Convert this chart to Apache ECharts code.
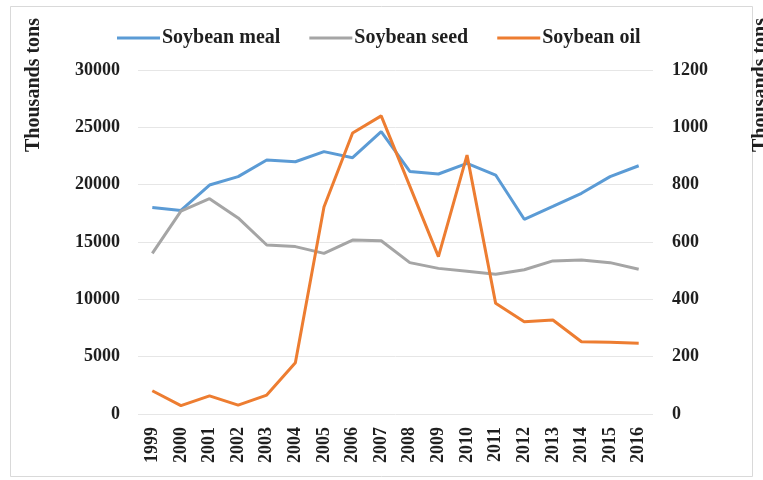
<!DOCTYPE html>
<html>
<head>
<meta charset="utf-8">
<script src="https://cdn.jsdelivr.net/npm/echarts@6/dist/echarts.min.js"></script>
<style>html,body{margin:0;padding:0;background:#fff;}#c{width:763px;height:480px;}</style>
</head>
<body>
<div id="c"></div>
<script>
const years = ['1999','2000','2001','2002','2003','2004','2005','2006','2007','2008','2009','2010','2011','2012','2013','2014','2015','2016'];
const soybeanMeal = [18000,17750,19970,20700,22150,22000,22880,22350,24620,21150,20930,21850,20840,16980,18100,19250,20700,21650];
const soybeanSeed = [14010,17700,18780,17100,14740,14600,14010,15170,15110,13200,12700,12450,12180,12580,13350,13420,13200,12620];
const soybeanOil = [81,29,63,31,66,179,722,980,1040,795,549,903,386,322,328,252,250,247];
const leftTicks = [0,5000,10000,15000,20000,25000,30000];
const rightTicks = [0,200,400,600,800,1000,1200];
const axisTitle = 'Thousands tons';

const font = '"Liberation Serif", "Times New Roman", serif';
const txt = '#1f1f1f';
const chart = echarts.init(document.getElementById('c'), null, {renderer: 'canvas'});
chart.setOption({
  backgroundColor: '#ffffff',
  animation: false,
  color: ['#5B9BD5', '#A5A5A5', '#ED7D31'],
  legend: {
    top: 23, left: 112,
    itemWidth: 43, itemHeight: 3, itemGap: 29,
    icon: 'rect',
    textStyle: {fontFamily: font, fontWeight: 'bold', fontSize: 20, color: txt, padding: [0,0,0,-3]},
    data: ['Soybean meal', 'Soybean seed', 'Soybean oil']
  },
  grid: {left: 138, right: 110, top: 70, bottom: 66},
  xAxis: {
    type: 'category', data: years, boundaryGap: true,
    axisLine: {show: false}, axisTick: {show: false},
    axisLabel: {rotate: 90, fontFamily: font, fontWeight: 'bold', fontSize: 18, color: txt, margin: 13, interval: 0}
  },
  yAxis: [
    {type: 'value', min: leftTicks[0], max: leftTicks[leftTicks.length-1], interval: 5000,
     axisLine: {show: false}, axisTick: {show: false},
     splitLine: {lineStyle: {color: '#e6e6e6', width: 1}},
     axisLabel: {fontFamily: font, fontWeight: 'bold', fontSize: 18, color: txt, margin: 18, formatter: v => String(v)}},
    {type: 'value', min: rightTicks[0], max: rightTicks[rightTicks.length-1], interval: 200,
     axisLine: {show: false}, axisTick: {show: false}, splitLine: {show: false},
     axisLabel: {fontFamily: font, fontWeight: 'bold', fontSize: 18, color: txt, margin: 19, formatter: v => String(v)}}
  ],
  series: [
    {name: 'Soybean meal', type: 'line', data: soybeanMeal, yAxisIndex: 0, symbol: 'none', lineStyle: {width: 3}},
    {name: 'Soybean seed', type: 'line', data: soybeanSeed, yAxisIndex: 0, symbol: 'none', lineStyle: {width: 3}},
    {name: 'Soybean oil', type: 'line', data: soybeanOil, yAxisIndex: 1, symbol: 'none', lineStyle: {width: 3}}
  ],
  graphic: [
    {type: 'rect', shape: {x: 10.5, y: 6.5, width: 742, height: 470}, style: {fill: null, stroke: '#d9d9d9', lineWidth: 1}, silent: true},
    {type: 'text', x: 34, y: 85, rotation: Math.PI/2,
     style: {text: axisTitle, font: 'bold 20px ' + font, fill: txt, align: 'center', verticalAlign: 'middle'}},
    {type: 'text', x: 761, y: 85, rotation: Math.PI/2,
     style: {text: axisTitle, font: 'bold 20px ' + font, fill: txt, align: 'center', verticalAlign: 'middle'}}
  ]
});
</script>
</body>
</html>
